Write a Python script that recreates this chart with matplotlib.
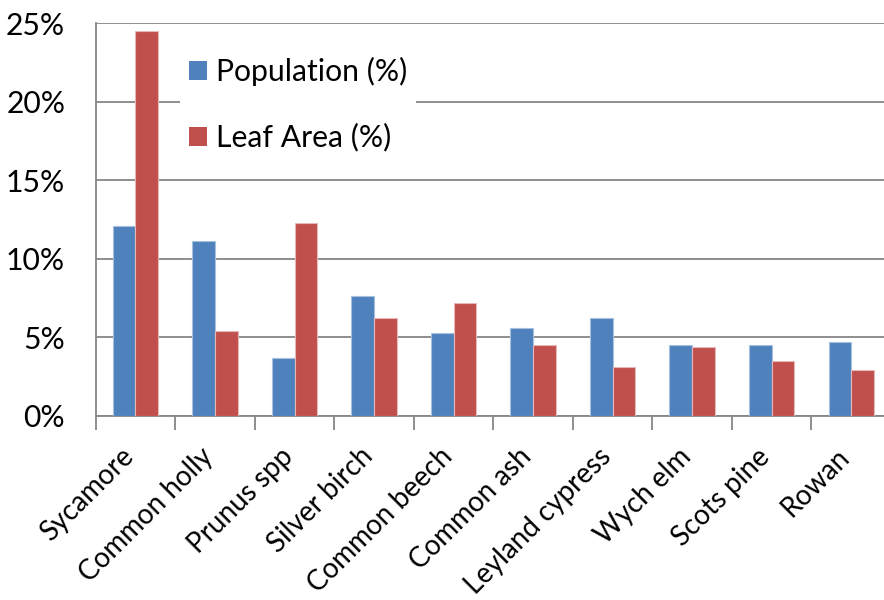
import matplotlib
matplotlib.use("Agg")
import matplotlib.pyplot as plt
import numpy as np
from matplotlib.ticker import FuncFormatter, FixedLocator

categories = ["Sycamore", "Common holly", "Prunus spp", "Silver birch", "Common beech",
              "Common ash", "Leyland cypress", "Wych elm", "Scots pine", "Rowan"]
population = [12.1, 11.1, 3.7, 7.6, 5.3, 5.6, 6.2, 4.5, 4.5, 4.7]
leaf_area = [24.5, 5.4, 12.3, 6.2, 7.2, 4.5, 3.1, 4.4, 3.5, 2.9]
series_names = ["Population (%)", "Leaf Area (%)"]
yticks = [0, 5, 10, 15, 20, 25]

plt.rcParams['font.family'] = ['Lato', 'DejaVu Sans']
W, H = 884, 600
fig = plt.figure(figsize=(W / 100, H / 100), dpi=100)
left, right, top, bottom = 95.7, 891.0, 23.3, 415.7
ax = fig.add_axes([left / W, 1 - bottom / H, (right - left) / W, (bottom - top) / H])

x = np.arange(len(categories))
bw = 1 / 3.5
ax.bar(x - bw / 2, population, bw, color="#4F81BD", edgecolor="#A7C0DE", linewidth=0.8,
       label=series_names[0], zorder=3)
ax.bar(x + bw / 2, leaf_area, bw, color="#C0504D", edgecolor="#E6B9B8", linewidth=0.8,
       label=series_names[1], zorder=3)

ax.set_xlim(-0.5, len(categories) - 0.5)
ax.set_ylim(0, 25)
ax.set_yticks(yticks)
ax.yaxis.set_major_formatter(FuncFormatter(lambda v, p: f"{int(v)}%"))
ax.grid(axis="y", color="#868686", linewidth=1.3, zorder=0)
ax.set_axisbelow(True)

for s in ["top", "right"]:
    ax.spines[s].set_visible(False)
for s in ["left", "bottom"]:
    ax.spines[s].set_color("#868686")
    ax.spines[s].set_linewidth(1.3)

ax.tick_params(axis="y", length=0, pad=22, labelsize=21.7, labelcolor="black")

ax.set_xticks(x)
ax.set_xticklabels(categories, rotation=45, ha="right", va="baseline", rotation_mode="anchor",
                   fontsize=20)
ax.tick_params(axis="x", which="major", length=0, pad=30.5)
ax.xaxis.set_minor_locator(FixedLocator(np.arange(-0.5, len(categories), 1.0)))
ax.tick_params(axis="x", which="minor", length=10, width=1.3, color="#868686", direction="out")

leg = ax.legend(loc="upper left", bbox_to_anchor=(180 / W, 1 - 48 / H), bbox_transform=fig.transFigure,
                frameon=True, fancybox=False, edgecolor="none", facecolor="white", framealpha=1,
                fontsize=21.7, handlelength=0.6, handleheight=0.6, handletextpad=0.28,
                labelspacing=1.23, borderpad=0.3, borderaxespad=0)
leg.set_zorder(5)
leg.get_frame().set_linewidth(0)
for h in leg.legend_handles:
    h.set_edgecolor("none")

fig.savefig("out.png", dpi=100)
